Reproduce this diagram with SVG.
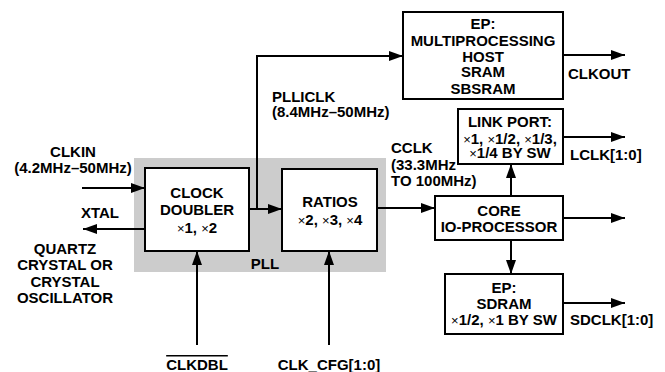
<svg xmlns="http://www.w3.org/2000/svg" width="665" height="372" viewBox="0 0 665 372">
<style>
text{font-family:"Liberation Sans",Arial,sans-serif;font-weight:bold;font-size:15px;fill:#000}
.c{text-anchor:middle}
.x{font-weight:normal;font-size:13px}
.box{fill:#fff;stroke:#000;stroke-width:2}
.ln{fill:none;stroke:#000;stroke-width:2}
</style>
<defs>
<marker id="ah" markerUnits="userSpaceOnUse" markerWidth="14" markerHeight="10" refX="14" refY="5" orient="auto">
<path d="M0,0 L14,5 L0,10 Z" fill="#000"/>
</marker>
</defs>
<rect id="pll" x="134" y="158" width="252" height="114" fill="#cccccc"/>
<text class="c" x="265" y="269">PLL</text>
<g id="connectors">
<path class="ln" d="M82,188 H145" marker-end="url(#ah)"/>
<path class="ln" d="M145,229 H83" marker-end="url(#ah)"/>
<path class="ln" d="M249,209 H282" marker-end="url(#ah)"/>
<path class="ln" d="M257,209 V56 H403" marker-end="url(#ah)"/>
<path class="ln" d="M377,208 H435" marker-end="url(#ah)"/>
<path class="ln" d="M197,345 V251" marker-end="url(#ah)"/>
<path class="ln" d="M329,345 V251" marker-end="url(#ah)"/>
<path class="ln" d="M563,55 H625" marker-end="url(#ah)"/>
<path class="ln" d="M563,137 H625" marker-end="url(#ah)"/>
<path class="ln" d="M563,218 H625" marker-end="url(#ah)"/>
<path class="ln" d="M563,303 H625" marker-end="url(#ah)"/>
<path class="ln" d="M511,196 V164" marker-end="url(#ah)"/>
<path class="ln" d="M511,240 V274" marker-end="url(#ah)"/>
</g>
<g id="clockdoubler">
<rect class="box" x="145" y="168" width="104" height="83"/>
<text class="c" x="197" y="198">CLOCK</text>
<text class="c" x="197" y="215">DOUBLER</text>
<text class="c" x="197" y="233"><tspan class="x">×</tspan>1, <tspan class="x">×</tspan>2</text>
</g>
<g id="ratios">
<rect class="box" x="282" y="169" width="95" height="82"/>
<text class="c" x="330" y="207">RATIOS</text>
<text class="c" x="330" y="225"><tspan class="x">×</tspan>2, <tspan class="x">×</tspan>3, <tspan class="x">×</tspan>4</text>
</g>
<g id="ep">
<rect class="box" x="403" y="12" width="160" height="87"/>
<text class="c" x="483" y="29">EP:</text>
<text class="c" x="483" y="46">MULTIPROCESSING</text>
<text class="c" x="483" y="62">HOST</text>
<text class="c" x="483" y="77">SRAM</text>
<text class="c" x="483" y="94">SBSRAM</text>
</g>
<g id="linkport">
<rect class="box" x="458" y="109" width="105" height="55"/>
<text class="c" x="510" y="127">LINK PORT:</text>
<text class="c" x="510" y="144"><tspan class="x">×</tspan>1, <tspan class="x">×</tspan>1/2, <tspan class="x">×</tspan>1/3,</text>
<text class="c" x="510" y="158"><tspan class="x">×</tspan>1/4 BY SW</text>
</g>
<g id="core">
<rect class="box" x="435" y="196" width="128" height="44"/>
<text class="c" x="499" y="216">CORE</text>
<text class="c" x="499" y="232">IO-PROCESSOR</text>
</g>
<g id="sdram">
<rect class="box" x="445" y="274" width="118" height="60"/>
<text class="c" x="504" y="293">EP:</text>
<text class="c" x="504" y="309">SDRAM</text>
<text class="c" x="504" y="325"><tspan class="x">×</tspan>1/2, <tspan class="x">×</tspan>1 BY SW</text>
</g>
<g id="labels">
<text class="c" x="73" y="157">CLKIN</text>
<text class="c" x="73" y="173">(4.2MHz–50MHz)</text>
<text class="c" x="100" y="218">XTAL</text>
<text class="c" x="65" y="254">QUARTZ</text>
<text class="c" x="65" y="270">CRYSTAL OR</text>
<text class="c" x="65" y="287">CRYSTAL</text>
<text class="c" x="65" y="303">OSCILLATOR</text>
<text x="272" y="102">PLLICLK</text>
<text x="272" y="117">(8.4MHz–50MHz)</text>
<text x="391" y="153">CCLK</text>
<text x="391" y="170">(33.3MHz</text>
<text x="391" y="186">TO 100MHz)</text>
<text x="568" y="79">CLKOUT</text>
<text x="570" y="160">LCLK[1:0]</text>
<text x="570" y="325">SDCLK[1:0]</text>
<text class="c" x="197" y="370" text-decoration="overline">CLKDBL</text>
<text class="c" x="329" y="370">CLK_CFG[1:0]</text>
</g>
</svg>
